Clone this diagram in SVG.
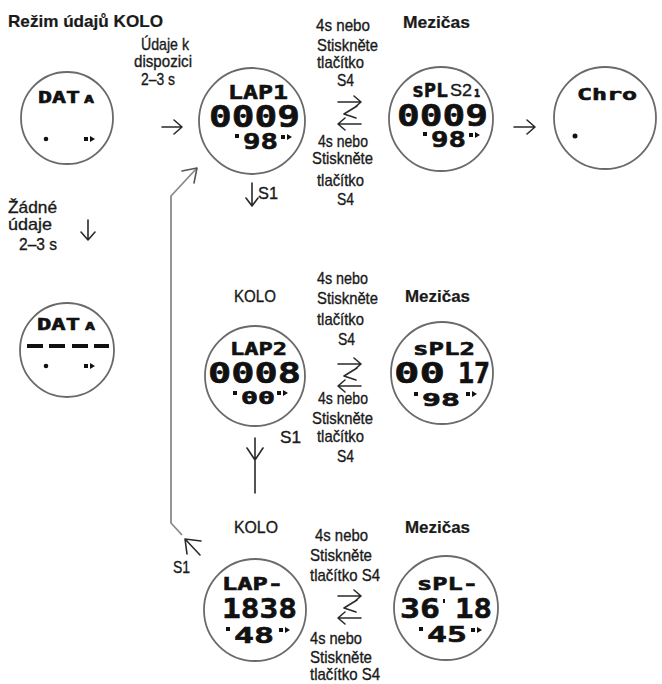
<svg xmlns="http://www.w3.org/2000/svg" xmlns:xlink="http://www.w3.org/1999/xlink" width="662" height="684" viewBox="0 0 662 684">
<style>
.bg{fill:#fff}
.dial{fill:#fff;stroke:#6a6a6a;stroke-width:1.8}
.lbl{font-family:"Liberation Sans",Arial,sans-serif;font-size:17px;fill:#1a1a1a;stroke:#1a1a1a;stroke-width:0.35}
.hdr{font-family:"Liberation Sans",Arial,sans-serif;font-size:17px;fill:#1a1a1a;stroke:#1a1a1a;stroke-width:0.35}
.b{font-weight:bold;stroke-width:0.2}
.lcd{font-family:"DejaVu Sans Mono",monospace;font-weight:bold;fill:#111;stroke:#111;stroke-width:0.6}
.arr{fill:none;stroke:#2a2a2a;stroke-width:1.6;stroke-linecap:round;stroke-linejoin:round}
.loop{fill:none;stroke:#8a8a8a;stroke-width:1.8}
.ink{fill:#111}
</style>
<defs>
<g id="swap" class="arr">
<path d="M1,6 H24 M17,0 L24,6 L17,12 M20,10 L7,18 L19,22 M24,28 H1 M8,22 L1,28 L8,34"/>
</g>
<g id="ff" class="ink">
<rect x="0" y="-2" width="4" height="4"/>
<polygon points="6,-3 11,0 6,3"/>
</g>
</defs>
<rect class="bg" width="662" height="684"/>

<g id="title">
<text class="hdr b" x="8" y="27" font-size="18" textLength="155" lengthAdjust="spacingAndGlyphs">Režim údajů KOLO</text>
</g>

<g id="connectors">
<path class="arr" d="M162,127 H182 M174,120 L182,127 L174,134"/>
<path class="arr" d="M514,127 H535 M527,120 L535,127 L527,134"/>
<path class="arr" d="M88,220 V240 M81,232 L88,240 L95,232"/>
<path class="arr" d="M252,183 V206 M246,198 L252,206 L258,198"/>
<path class="arr" d="M255,438 V493 M247,448 L255,460 L263,448"/>
<path class="loop" d="M197,168 L171,196 V523 L182,535"/>
<path class="arr" style="stroke:#555" d="M182,171 L197,168 L194,183"/>
<path class="arr" d="M200,555 L185,539 M185,539 L201,541 M185,539 L187,554"/>
<use xlink:href="#swap" x="337" y="96"/>
<use xlink:href="#swap" x="337" y="358"/>
<use xlink:href="#swap" x="337" y="590"/>
</g>

<g id="labels">
<text class="lbl" x="141" y="50" textLength="48" lengthAdjust="spacingAndGlyphs">Údaje k</text>
<text class="lbl" x="134" y="67" textLength="58" lengthAdjust="spacingAndGlyphs">dispozici</text>
<text class="lbl" x="141" y="85" textLength="34" lengthAdjust="spacingAndGlyphs">2–3 s</text>

<text class="lbl" x="316" y="31" textLength="54" lengthAdjust="spacingAndGlyphs">4s nebo</text>
<text class="lbl" x="317" y="51" textLength="61" lengthAdjust="spacingAndGlyphs">Stiskněte</text>
<text class="lbl" x="317" y="68" textLength="47" lengthAdjust="spacingAndGlyphs">tlačítko</text>
<text class="lbl" x="337" y="86" textLength="17" lengthAdjust="spacingAndGlyphs">S4</text>
<text class="lbl" x="318" y="147" textLength="50" lengthAdjust="spacingAndGlyphs">4s nebo</text>
<text class="lbl" x="312" y="164" textLength="61" lengthAdjust="spacingAndGlyphs">Stiskněte</text>
<text class="lbl" x="317" y="186" textLength="47" lengthAdjust="spacingAndGlyphs">tlačítko</text>
<text class="lbl" x="337" y="205" textLength="17" lengthAdjust="spacingAndGlyphs">S4</text>

<text class="hdr b" x="403" y="28" textLength="67" lengthAdjust="spacingAndGlyphs">Mezičas</text>
<text class="lbl" x="258" y="199" textLength="20" lengthAdjust="spacingAndGlyphs">S1</text>

<text class="lbl" x="8" y="213" font-size="16" textLength="49" lengthAdjust="spacingAndGlyphs">Žádné</text>
<text class="lbl" x="8" y="230" font-size="16" textLength="44" lengthAdjust="spacingAndGlyphs">údaje</text>
<text class="lbl" x="19" y="250" textLength="38" lengthAdjust="spacingAndGlyphs">2–3 s</text>

<text class="hdr" x="234" y="302" textLength="42" lengthAdjust="spacingAndGlyphs">KOLO</text>
<text class="hdr b" x="405" y="302" textLength="65" lengthAdjust="spacingAndGlyphs">Mezičas</text>
<text class="lbl" x="317" y="284" textLength="51" lengthAdjust="spacingAndGlyphs">4s nebo</text>
<text class="lbl" x="317" y="304" textLength="61" lengthAdjust="spacingAndGlyphs">Stiskněte</text>
<text class="lbl" x="317" y="325" textLength="47" lengthAdjust="spacingAndGlyphs">tlačítko</text>
<text class="lbl" x="338" y="345" textLength="17" lengthAdjust="spacingAndGlyphs">S4</text>
<text class="lbl" x="318" y="404" textLength="50" lengthAdjust="spacingAndGlyphs">4s nebo</text>
<text class="lbl" x="312" y="424" textLength="61" lengthAdjust="spacingAndGlyphs">Stiskněte</text>
<text class="lbl" x="317" y="442" textLength="47" lengthAdjust="spacingAndGlyphs">tlačítko</text>
<text class="lbl" x="337" y="462" textLength="17" lengthAdjust="spacingAndGlyphs">S4</text>
<text class="lbl" x="280" y="443" textLength="21" lengthAdjust="spacingAndGlyphs">S1</text>

<text class="hdr" x="234" y="533" textLength="44" lengthAdjust="spacingAndGlyphs">KOLO</text>
<text class="hdr b" x="405" y="533" textLength="65" lengthAdjust="spacingAndGlyphs">Mezičas</text>
<text class="lbl" x="315" y="541" textLength="53" lengthAdjust="spacingAndGlyphs">4s nebo</text>
<text class="lbl" x="310" y="561" textLength="62" lengthAdjust="spacingAndGlyphs">Stiskněte</text>
<text class="lbl" x="310" y="581" textLength="70" lengthAdjust="spacingAndGlyphs">tlačítko S4</text>
<text class="lbl" x="310" y="644" textLength="52" lengthAdjust="spacingAndGlyphs">4s nebo</text>
<text class="lbl" x="310" y="663" textLength="62" lengthAdjust="spacingAndGlyphs">Stiskněte</text>
<text class="lbl" x="310" y="680" textLength="70" lengthAdjust="spacingAndGlyphs">tlačítko S4</text>
<text class="lbl" x="173" y="573" textLength="17" lengthAdjust="spacingAndGlyphs">S1</text>
</g>

<g id="data1">
<circle class="dial" cx="67" cy="118" r="46"/>
<text class="lcd" x="38" y="103" font-size="16" textLength="42" lengthAdjust="spacingAndGlyphs">DAT</text>
<text class="lcd" x="84" y="103" font-size="11" textLength="10" lengthAdjust="spacingAndGlyphs">A</text>
<circle class="ink" cx="46" cy="139" r="2.3"/>
<use xlink:href="#ff" x="84" y="139"/>
</g>

<g id="lap1">
<circle class="dial" cx="252" cy="121" r="53"/>
<text class="lcd" x="228" y="99" font-size="20" textLength="60" lengthAdjust="spacingAndGlyphs">LAP1</text>
<text class="lcd" x="209" y="127" font-size="31" textLength="91" lengthAdjust="spacingAndGlyphs">0009</text>
<rect class="ink" x="235" y="134" width="4" height="4"/>
<text class="lcd" x="243" y="149" font-size="21" textLength="35" lengthAdjust="spacingAndGlyphs">98</text>
<use xlink:href="#ff" x="281" y="137"/>
</g>

<g id="spl1">
<circle class="dial" cx="441" cy="119" r="52"/>
<text class="lcd" x="412" y="97" font-size="20" textLength="36" lengthAdjust="spacingAndGlyphs">sPL</text>
<text class="lbl" x="450" y="96" font-size="16" textLength="22" lengthAdjust="spacingAndGlyphs">S2</text>
<text class="lcd" x="474" y="97" font-size="11" textLength="6" lengthAdjust="spacingAndGlyphs">1</text>
<text class="lcd" x="397" y="126" font-size="31" textLength="91" lengthAdjust="spacingAndGlyphs">0009</text>
<rect class="ink" x="423" y="132" width="4" height="4"/>
<text class="lcd" x="431" y="147" font-size="21" textLength="35" lengthAdjust="spacingAndGlyphs">98</text>
<use xlink:href="#ff" x="469" y="135"/>
</g>

<g id="chro">
<circle class="dial" cx="605" cy="118" r="51"/>
<text class="lcd" x="577" y="100" font-size="16" textLength="60" lengthAdjust="spacingAndGlyphs">Chro</text>
<circle class="ink" cx="575" cy="136" r="2.5"/>
</g>

<g id="data2">
<circle class="dial" cx="67" cy="350" r="47"/>
<text class="lcd" x="37" y="330" font-size="16" textLength="43" lengthAdjust="spacingAndGlyphs">DAT</text>
<text class="lcd" x="85" y="330" font-size="11" textLength="10" lengthAdjust="spacingAndGlyphs">A</text>
<rect class="ink" x="27" y="344" width="16" height="4"/>
<rect class="ink" x="49" y="344" width="16" height="4"/>
<rect class="ink" x="72" y="344" width="16" height="4"/>
<rect class="ink" x="94" y="344" width="15" height="4"/>
<circle class="ink" cx="46" cy="366" r="2.3"/>
<use xlink:href="#ff" x="84" y="366"/>
</g>

<g id="lap2">
<circle class="dial" cx="255" cy="376" r="50"/>
<text class="lcd" x="230" y="355" font-size="18" textLength="57" lengthAdjust="spacingAndGlyphs">LAP2</text>
<text class="lcd" x="208" y="383" font-size="28" textLength="93" lengthAdjust="spacingAndGlyphs">0008</text>
<rect class="ink" x="233" y="391" width="4" height="4"/>
<text class="lcd" x="241" y="404" font-size="17" textLength="34" lengthAdjust="spacingAndGlyphs">00</text>
<use xlink:href="#ff" x="277" y="393"/>
</g>

<g id="spl2">
<circle class="dial" cx="442" cy="373" r="51"/>
<text class="lcd" x="413" y="355" font-size="18" textLength="62" lengthAdjust="spacingAndGlyphs">sPL2</text>
<text class="lcd" x="394" y="383" font-size="28" textLength="51" lengthAdjust="spacingAndGlyphs">00</text>
<text class="lcd" x="458" y="383" font-size="28" textLength="32" lengthAdjust="spacingAndGlyphs">17</text>
<rect class="ink" x="414" y="392" width="4" height="4"/>
<text class="lcd" x="422" y="406" font-size="17" textLength="38" lengthAdjust="spacingAndGlyphs">98</text>
<use xlink:href="#ff" x="466" y="394"/>
</g>

<g id="lap3">
<circle class="dial" cx="255" cy="610" r="51"/>
<text class="lcd" x="222" y="590" font-size="17" textLength="61" lengthAdjust="spacingAndGlyphs">LAP-</text>
<text class="lcd" x="222" y="618" font-size="27" textLength="75" lengthAdjust="spacingAndGlyphs">1838</text>
<rect class="ink" x="226" y="627" width="4" height="4"/>
<text class="lcd" x="234" y="643" font-size="21" textLength="40" lengthAdjust="spacingAndGlyphs">48</text>
<use xlink:href="#ff" x="279" y="630"/>
</g>

<g id="spl3">
<circle class="dial" cx="446" cy="608" r="52"/>
<text class="lcd" x="417" y="590" font-size="17" textLength="61" lengthAdjust="spacingAndGlyphs">sPL-</text>
<text class="lcd" x="400" y="618" font-size="27" textLength="40" lengthAdjust="spacingAndGlyphs">36</text>
<rect class="ink" x="443" y="599" width="2" height="4"/>
<text class="lcd" x="455" y="618" font-size="27" textLength="37" lengthAdjust="spacingAndGlyphs">18</text>
<rect class="ink" x="419" y="627" width="4" height="4"/>
<text class="lcd" x="427" y="642" font-size="21" textLength="40" lengthAdjust="spacingAndGlyphs">45</text>
<use xlink:href="#ff" x="471" y="630"/>
</g>
</svg>
